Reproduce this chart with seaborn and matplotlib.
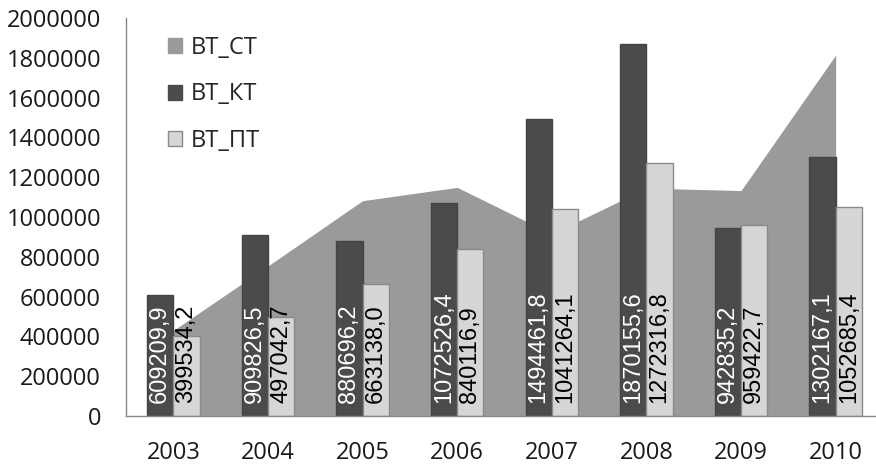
import numpy as np
import pandas as pd
import matplotlib
matplotlib.use("Agg")
import matplotlib.pyplot as plt
import seaborn as sns
from matplotlib.patches import Patch

# data
years = ["2003", "2004", "2005", "2006", "2007", "2008", "2009", "2010"]
vt_st = [430000, 754000, 1082000, 1149000, 915000, 1145000, 1133000, 1814000]
vt_kt = [609209.9, 909826.5, 880696.2, 1072526.4, 1494461.8, 1870155.6, 942835.2, 1302167.1]
vt_pt = [399534.2, 497042.7, 663138.0, 840116.9, 1041264.1, 1272316.8, 959422.7, 1052685.4]

c_st = "#9a9a9a"
c_kt = "#4b4b4b"
c_pt = "#d6d6d6"

sns.set_style("white")
plt.rcParams['font.family'] = ['Open Sans', 'DejaVu Sans']

df = pd.DataFrame({
    "year": years * 2,
    "value": vt_kt + vt_pt,
    "series": ["ВТ_КТ"] * len(years) + ["ВТ_ПТ"] * len(years),
})

fig = plt.figure(figsize=(8.76, 4.65), dpi=100)
ax = fig.add_axes([126 / 876, 49 / 465, 757 / 876, 398 / 465])

sns.barplot(data=df, x="year", y="value", hue="series", palette=[c_kt, c_pt],
            width=0.556, ax=ax, saturation=1, legend=False)

# area series behind the bars, on the categorical positions
xs = np.arange(len(years))
ax.fill_between(xs, 0, vt_st, color=c_st, linewidth=0, zorder=0.5)

for cont, col, txtc in zip(ax.containers, ["#444444", "#8a8a8a"], ["white", "black"]):
    for p, v in zip(cont.patches, cont.datavalues):
        p.set_edgecolor(col)
        p.set_linewidth(1)
        p.set_zorder(2)
        lab = f"{v:.1f}".replace(".", ",")
        ax.annotate(lab, xy=(p.get_x() + p.get_width() / 2, 0), xytext=(0, 9.5),
                    textcoords="offset points", rotation=90, ha="center", va="bottom",
                    fontsize=17, color=txtc, family=["Liberation Sans", "DejaVu Sans"],
                    zorder=3)

ax.set_xlim(-0.5, len(years) - 0.5)
ax.set_ylim(0, 2000000)
ax.set_yticks(np.arange(0, 2000001, 200000))
ax.set_yticklabels([str(int(t)) for t in np.arange(0, 2000001, 200000)])
ax.set_xticks(np.arange(-0.5, len(years), 1), minor=True)
ax.tick_params(axis="x", which="major", length=0, pad=18, labelsize=17, labelcolor="#1a1a1a")
ax.tick_params(axis="x", which="minor", length=6, width=1, color="#888888", direction="out")
ax.tick_params(axis="y", length=6, width=1, color="#888888", direction="out", pad=12,
               labelsize=17, labelcolor="#1a1a1a")
ax.set_xlabel("")
ax.set_ylabel("")

for s in ["top", "right"]:
    ax.spines[s].set_visible(False)
for s in ["left", "bottom"]:
    ax.spines[s].set_color("#888888")
    ax.spines[s].set_linewidth(1)

handles = [Patch(facecolor=c_st, edgecolor=c_st),
           Patch(facecolor=c_kt, edgecolor=c_kt),
           Patch(facecolor=c_pt, edgecolor="#8a8a8a")]
ax.legend(handles, ["ВТ_СТ", "ВТ_КТ", "ВТ_ПТ"], loc="upper left",
          bbox_to_anchor=(168 / 876, 1 - 36 / 465), bbox_transform=fig.transFigure,
          frameon=False, fontsize=17, handlelength=0.6, handleheight=0.6,
          handletextpad=0.35, labelspacing=0.95, borderpad=0, borderaxespad=0)

fig.savefig("out.png", dpi=100)
